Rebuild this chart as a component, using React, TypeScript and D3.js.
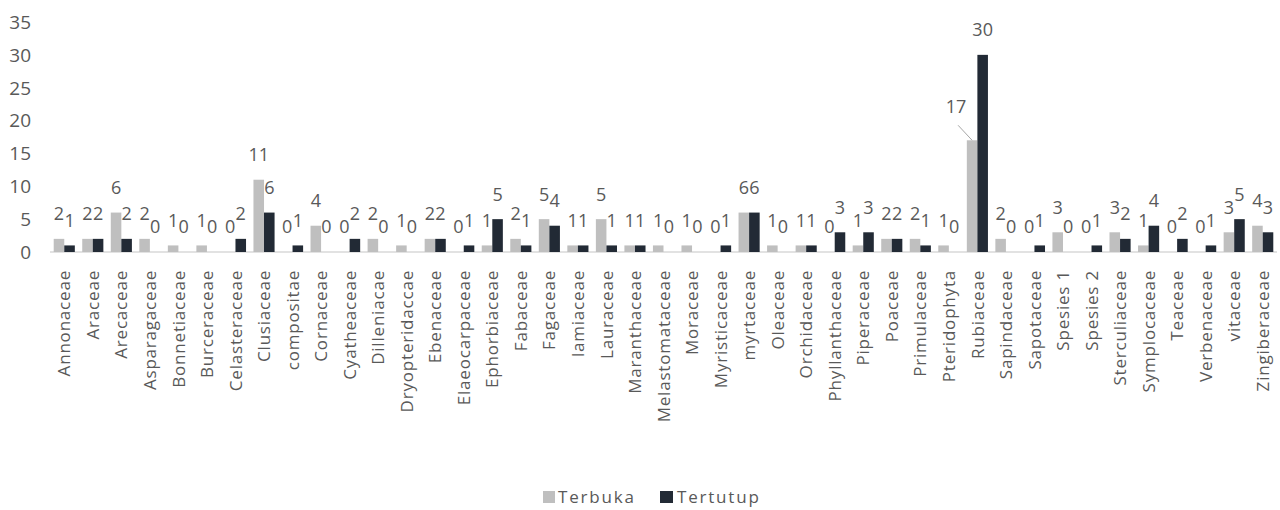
import React from "react";
import * as d3 from "d3";

const categories = ["Annonaceae","Araceae","Arecaceae","Asparagaceae","Bonnetiaceae","Burceraceae","Celasteraceae","Clusiaceae","compositae","Cornaceae","Cyatheaceae","Dilleniacae","Dryopteridaccae","Ebenaceae","Elaeocarpaceae","Ephorbiaceae","Fabaceae","Fagaceae","lamiaceae","Lauraceae","Maranthaceae","Melastomataceae","Moraceae","Myristicaceae","myrtaceae","Oleaceae","Orchidaceae","Phyllanthaceae","Piperaceae","Poaceae","Primulaceae","Pteridophyta","Rubiaceae","Sapindaceae","Sapotaceae","Spesies 1","Spesies 2","Sterculiaceae","Symplocaceae","Teaceae","Verbenaceae","vitaceae","Zingiberaceae"];
const terbuka = [2,2,6,2,1,1,0,11,0,4,0,2,1,2,0,1,2,5,1,5,1,1,1,0,6,1,1,0,1,2,2,1,17,2,0,3,0,3,1,0,0,3,4];
const tertutup = [1,2,2,0,0,0,2,6,1,0,2,0,0,2,1,5,1,4,1,1,1,0,0,1,6,0,1,3,3,2,1,0,30,0,1,0,1,2,4,2,1,5,3];
const seriesNames = ["Terbuka", "Tertutup"];
const yTicks = [0,5,10,15,20,25,30,35];

const colors = ["#BFBFBF", "#222A35"];
const textColor = "#595959";
const W = 1280, H = 510;

export default function App() {
  const x = d3.scaleBand<string>().domain(categories).range([50, 1277]).paddingInner(0.26).paddingOuter(0.13);
  const sub = d3.scaleBand<string>().domain(seriesNames).range([0, x.bandwidth()]);
  const y = d3.scaleLinear().domain([0, 35]).range([252, 22]);
  const series = [terbuka, tertutup];
  const font = "'Open Sans', sans-serif";

  return (
    <svg width={W} height={H} style={{ position: "absolute", left: 0, top: 0, background: "#fff" }} fontFamily={font}>
      {yTicks.map((t) => (
        <text key={t} x={31} y={y(t)} dy="0.36em" textAnchor="end" fontSize={19} fill={textColor}>{t}</text>
      ))}
      <line x1={50} x2={1277} y1={y(0)} y2={y(0)} stroke="#D9D9D9" strokeWidth={1.5} />
      {categories.map((c, i) => (
        <g key={c}>
          {series.map((s, k) => {
            const bx = (x(c) as number) + (sub(seriesNames[k]) as number);
            const bw = sub.bandwidth();
            const v = s[i];
            const special = c === "Rubiaceae" && k === 0;
            const lx = special ? bx + bw / 2 - 16 : bx + bw / 2;
            const ly = special ? y(v) - 34 : y(v) - 25;
            return (
              <g key={k}>
                <rect x={bx} y={y(v)} width={bw} height={y(0) - y(v)} fill={colors[k]} />
                {special && (
                  <line x1={bx + bw / 2 - 14} y1={y(v) - 15} x2={bx + bw / 2} y2={y(v)} stroke="#A6A6A6" strokeWidth={1} />
                )}
                <text x={lx} y={ly} dy="0.36em" textAnchor="middle" fontSize={18} fill={textColor}>{v}</text>
              </g>
            );
          })}
          <text
            transform={`translate(${(x(c) as number) + x.bandwidth() / 2},270) rotate(-90)`}
            dy="0.36em"
            textAnchor="end"
            fontSize={17}
            letterSpacing={0.8}
            fill={textColor}
          >{c}</text>
        </g>
      ))}
      <g transform="translate(543,491)">
        <rect x={0} y={0} width={12} height={12} fill={colors[0]} />
        <text x={15} y={6} dy="0.36em" fontSize={17} letterSpacing={1.8} fill={textColor}>{seriesNames[0]}</text>
        <rect x={117} y={0} width={13} height={12} fill={colors[1]} />
        <text x={134} y={6} dy="0.36em" fontSize={17} letterSpacing={1.8} fill={textColor}>{seriesNames[1]}</text>
      </g>
    </svg>
  );
}
